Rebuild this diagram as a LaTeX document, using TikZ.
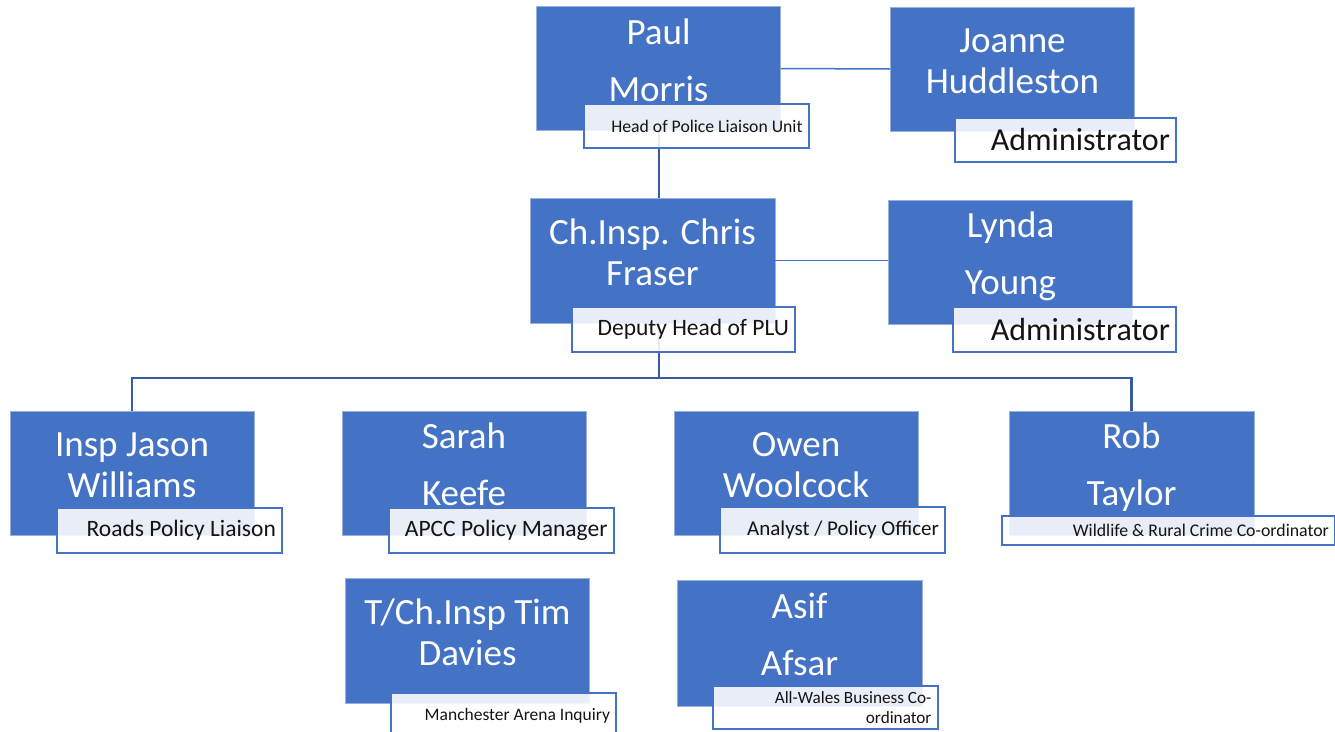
\documentclass[tikz,border=0pt]{standalone}
\usepackage{fontspec}
\setmainfont{Carlito}
\usetikzlibrary{positioning, calc}
\definecolor{plublue}{RGB}{68, 114, 196}
\definecolor{linkblue}{RGB}{55, 92, 165}
\definecolor{roletext}{RGB}{20, 20, 20}

\begin{document}
\begin{tikzpicture}[x=1pt, y=-1pt,
  person/.style={fill=plublue, draw=plublue!55!white, line width=0.8pt, minimum width=244pt, minimum height=124pt, inner sep=0pt},
  nametext/.style={text=white, align=center, inner sep=0pt, font=\fontsize{37}{41}\selectfont},
  role/.style={draw=plublue, line width=2pt, fill=white, fill opacity=0.88, text opacity=1, text=roletext, align=flush right, inner xsep=6pt, inner ysep=0pt, minimum height=45pt, text width=213pt},
  sidelink/.style={draw=plublue, line width=1.5pt},
  treelink/.style={draw=linkblue, line width=2.5pt}]
  \clip (0,0) rectangle (1335,731);

  % Head of unit and admin
  \node[person] (paul) at (658.5, 68.5) {};
  \node[nametext] at ([yshift=4pt]paul.center) {Paul\strut\\[16pt]Morris\strut};
  \node[person] (joanne) at (1012.5, 69) {};
  \node[nametext] at ([yshift=4pt]joanne.center) {Joanne\strut\\Huddleston\strut};

  % Deputy and admin
  \node[person, minimum width=245pt, minimum height=125pt] (chris) at (652.5, 260.5) {};
  \node[nametext] at ([yshift=4pt]chris.center) {Ch.Insp. Chris\strut\\Fraser\strut};
  \node[person] (lynda) at (1010.5, 262) {};
  \node[nametext] at ([yshift=4pt]lynda.center) {Lynda\strut\\[16pt]Young\strut};

  % Team
  \node[person] (jason) at (132, 473) {};
  \node[nametext] at ([yshift=4pt]jason.center) {Insp Jason\strut\\Williams\strut};
  \node[person] (sarah) at (464, 473) {};
  \node[nametext] at ([yshift=4pt]sarah.center) {Sarah\strut\\[16pt]Keefe\strut};
  \node[person] (owen) at (796, 473) {};
  \node[nametext] at ([yshift=4pt]owen.center) {Owen\strut\\Woolcock\strut};
  \node[person, minimum width=245pt] (rob) at (1131.5, 473) {};
  \node[nametext] at ([yshift=4pt]rob.center) {Rob\strut\\[16pt]Taylor\strut};

  % Unlinked posts
  \node[person, minimum height=125pt] (tim) at (467.5, 640.5) {};
  \node[nametext] at ([yshift=4pt]tim.center) {T/Ch.Insp Tim\strut\\Davies\strut};
  \node[person, minimum width=245pt, minimum height=126pt] (asif) at (799.5, 643) {};
  \node[nametext] at ([yshift=4pt]asif.center) {Asif\strut\\[16pt]Afsar\strut};

  % Lines
  \coordinate (bus) at (659, 378);
  \draw[treelink] (paul.south -| bus) -- (chris.north -| bus);
  \draw[treelink] (chris.south -| bus) -- (bus);
  \draw[treelink] (jason.north) |- (bus) -| (rob.north);
  \draw[sidelink] (paul.east) -- (joanne.west);
  \draw[sidelink] (chris.east) -- (chris.east -| lynda.west);

  % Job titles
  \node[role, minimum height=44pt, font=\fontsize{17.7}{20}\selectfont] (paulrole) at (696, 126) {Head of Police Liaison Unit};
  \node[role, minimum height=44pt, text width=209pt, font=\fontsize{32}{36}\selectfont] (joannerole) at (1065.5, 140) {Administrator};
  \node[role, text width=211pt, font=\fontsize{23.5}{26}\selectfont] (chrisrole) at (683.5, 329.5) {Deputy Head of PLU};
  \node[role, text width=211pt, font=\fontsize{32}{36}\selectfont] (lyndarole) at (1064.5, 329.5) {Administrator};
  \node[role, font=\fontsize{23.5}{26}\selectfont] (jasonrole) at (169.5, 530.5) {Roads Policy Liaison};
  \node[role, font=\fontsize{23.5}{26}\selectfont] (sarahrole) at (501, 530.5) {APCC Policy Manager};
  \node[role, minimum height=46pt, font=\fontsize{21}{24}\selectfont] (owenrole) at (832.5, 530) {Analyst / Policy Officer};
  \node[role, minimum height=29pt, text width=321pt, font=\fontsize{17.8}{20}\selectfont] (robrole) at (1168.5, 530.5) {Wildlife \& Rural Crime Co-ordinator};
  \node[role, font=\fontsize{17.5}{20}\selectfont] (timrole) at (503.5, 715.5) {Manchester Arena Inquiry};
  \node[role, minimum height=43pt, text width=213pt, font=\fontsize{17.2}{20}\selectfont] (asifrole) at (825, 707.5) {All-Wales Business Co-\\ordinator};
\end{tikzpicture}
\end{document}
